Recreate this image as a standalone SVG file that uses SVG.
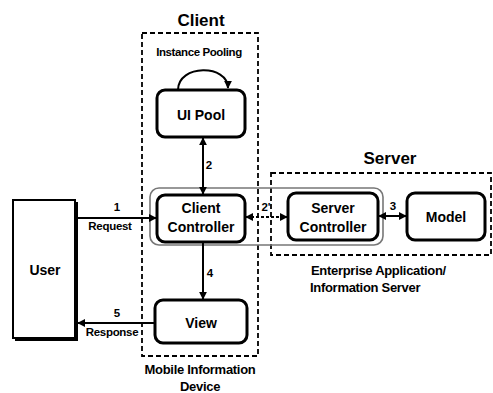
<svg xmlns="http://www.w3.org/2000/svg" width="493" height="393" viewBox="0 0 493 393">
<defs>
<style>
text{font-family:"Liberation Sans",Arial,sans-serif;font-weight:bold;fill:#000}
.t{font-size:14px;text-anchor:middle}
.title{font-size:17px;text-anchor:middle}
.lbl{font-size:11.5px;text-anchor:middle}
.cap{font-size:13px}
.box{fill:#fff;stroke:#000;stroke-width:3}
.dash{fill:none;stroke:#000;stroke-width:1.8;stroke-dasharray:5,3}
.ln{fill:none;stroke:#000;stroke-width:2}
</style>
<marker id="ah" viewBox="0 0 10 10" refX="9" refY="5" markerWidth="8" markerHeight="8" markerUnits="userSpaceOnUse" orient="auto-start-reverse">
<path d="M0,0 L10,5 L0,10 z" fill="#000"/>
</marker>
</defs>
<rect width="493" height="393" fill="#fff"/>
<g id="client-region">
<rect class="dash" x="142" y="33" width="116" height="323"/>
<text class="title" x="201" y="26">Client</text>
<text class="cap" x="200" y="374" text-anchor="middle" letter-spacing="-0.3">Mobile Information</text>
<text class="cap" x="200" y="391" text-anchor="middle" letter-spacing="-0.3">Device</text>
</g>
<g id="server-region">
<rect class="dash" x="271" y="173" width="220" height="82"/>
<text class="title" x="390" y="164">Server</text>
<text class="cap" x="311" y="275" letter-spacing="-0.3">Enterprise Application/</text>
<text class="cap" x="310" y="292" letter-spacing="-0.3">Information Server</text>
</g>
<g id="controllers-group">
<rect x="150" y="188" width="233" height="57" rx="9" fill="none" stroke="#777" stroke-width="1.6"/>
</g>
<g id="user">
<rect x="13" y="200" width="62" height="138" fill="#fff" stroke="#000" stroke-width="2"/>
<path d="M77,202 V340 H15" fill="none" stroke="#000" stroke-width="2"/>
<text class="t" x="45" y="275">User</text>
</g>
<g id="ui-pool">
<rect class="box" x="157" y="90" width="88" height="47" rx="8"/>
<text class="t" x="201" y="120">UI Pool</text>
<text class="lbl" x="199" y="56" letter-spacing="-0.4">Instance Pooling</text>
</g>
<g id="client-controller">
<rect class="box" x="157" y="195" width="88" height="47" rx="8"/>
<text class="t" x="201" y="213">Client</text>
<text class="t" x="201" y="232">Controller</text>
</g>
<g id="server-controller">
<rect class="box" x="288" y="193" width="90" height="47" rx="8"/>
<text class="t" x="333" y="213">Server</text>
<text class="t" x="333" y="232">Controller</text>
</g>
<g id="model">
<rect class="box" x="407" y="193" width="78" height="47" rx="8"/>
<text class="t" x="446" y="222">Model</text>
</g>
<g id="view">
<rect class="box" x="155" y="300" width="92" height="43" rx="8"/>
<text class="t" x="201" y="328">View</text>
</g>
<g id="connectors">
<path class="ln" d="M178,90 C178,64 228,64 228,88" stroke-width="2.5" marker-end="url(#ah)"/>
<path class="ln" d="M203,138 V194" marker-start="url(#ah)" marker-end="url(#ah)"/>
<text class="lbl" x="209" y="169">2</text>
<path class="ln" d="M76,218 H156" marker-end="url(#ah)"/>
<text class="lbl" x="117" y="211">1</text>
<text class="lbl" x="110" y="230" letter-spacing="-0.3">Request</text>
<path class="ln" d="M246,217 H287" stroke-dasharray="3,2" marker-start="url(#ah)" marker-end="url(#ah)"/>
<text class="lbl" x="266" y="211">2'</text>
<path class="ln" d="M379,216 H406" marker-start="url(#ah)" marker-end="url(#ah)"/>
<text class="lbl" x="393" y="210">3</text>
<path class="ln" d="M203,243 V299" marker-end="url(#ah)"/>
<text class="lbl" x="210" y="277">4</text>
<path class="ln" d="M154,323 H78" marker-end="url(#ah)"/>
<text class="lbl" x="117" y="317">5</text>
<text class="lbl" x="112" y="336" letter-spacing="-0.3">Response</text>
</g>
</svg>
